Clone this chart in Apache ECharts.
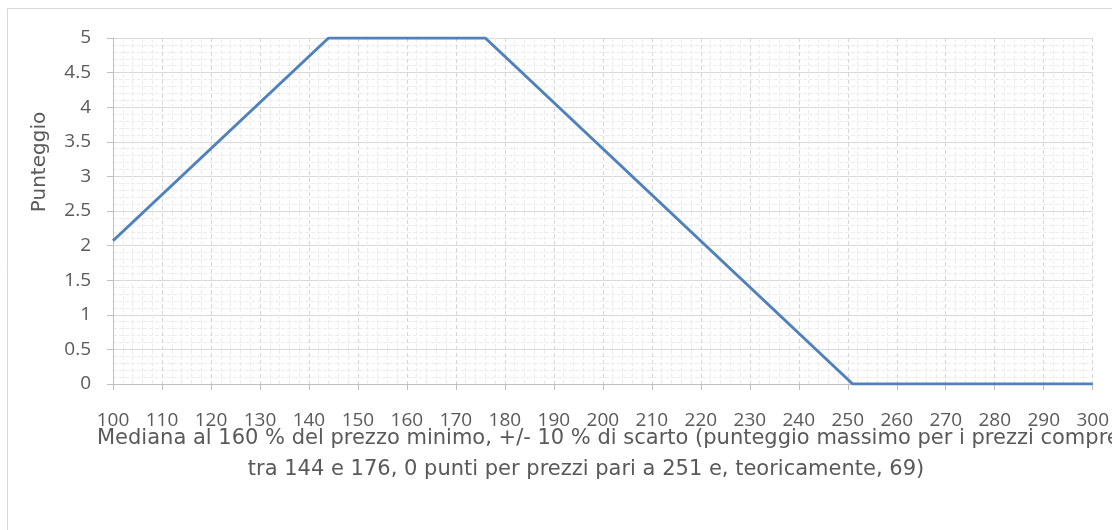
<!DOCTYPE html>
<html>
<head>
<meta charset="utf-8">
<script src="https://cdn.jsdelivr.net/npm/echarts@6/dist/echarts.min.js"></script>
<style>
  html, body { margin: 0; padding: 0; background: #fff; }
  #chart { width: 1112px; height: 530px; }
</style>
</head>
<body>
<div id="chart"></div>
<script>
// prezzo (x) e punteggio (y)
const prezzi = [100, 144, 176, 251, 300];
const punteggi = [2.07, 5, 5, 0, 0];

const xTitle1 = 'Mediana al 160 % del prezzo minimo, +/- 10 % di scarto (punteggio massimo per i prezzi compresi';
const xTitle2 = 'tra 144 e 176, 0 punti per prezzi pari a 251 e, teoricamente, 69)';
const yTitle = 'Punteggio';

const FONT = '"Open Sans", sans-serif';
const TITLE_FONT = '"DejaVu Sans", sans-serif';
const TEXT = '#595959';

const chart = echarts.init(document.getElementById('chart'));

const option = {
    animation: false,
    grid: { left: 113, right: 17, top: 38, bottom: 146 },
    xAxis: {
        type: 'value',
        min: 100,
        max: 300,
        interval: 10,
        axisLine: { lineStyle: { color: '#bfbfbf', width: 1 } },
        axisTick: { show: true, length: 6, lineStyle: { color: '#bfbfbf' } },
        axisLabel: { color: TEXT, fontFamily: FONT, fontSize: 19, margin: 27 },
        splitLine: { show: true, lineStyle: { color: '#d6d6d6', type: [4, 3], width: 1 } },
        minorTick: { show: false, splitNumber: 5 },
        minorSplitLine: { show: true, lineStyle: { color: '#ececec', type: [4, 2], width: 1 } }
    },
    yAxis: {
        type: 'value',
        min: 0,
        max: 5,
        interval: 0.5,
        axisLine: { show: true, lineStyle: { color: '#bfbfbf', width: 1 } },
        axisTick: { show: true, length: 6, lineStyle: { color: '#bfbfbf' } },
        axisLabel: {
            color: TEXT, fontFamily: FONT, fontSize: 19, margin: 22,
            formatter: v => String(v)
        },
        splitLine: { show: true, lineStyle: { color: '#d9d9d9', width: 1 } },
        minorTick: { show: false, splitNumber: 5 },
        minorSplitLine: { show: true, lineStyle: { color: '#ececec', type: [4, 2], width: 1 } }
    },
    graphic: [
        {
            type: 'rect',
            shape: { x: 7.5, y: 8.5, width: 1300, height: 700 },
            style: { fill: 'none', stroke: '#d9d9d9', lineWidth: 1 },
            silent: true
        },
        {
            type: 'text',
            x: 40, y: 162,
            rotation: Math.PI / 2,
            style: {
                text: yTitle, fill: TEXT, font: '20px ' + TITLE_FONT,
                align: 'center', verticalAlign: 'middle'
            }
        },
        {
            type: 'text',
            x: 97, y: 439,
            style: {
                text: xTitle1, fill: TEXT, font: '21px ' + TITLE_FONT,
                align: 'left', verticalAlign: 'middle'
            }
        },
        {
            type: 'text',
            x: 586, y: 470,
            style: {
                text: xTitle2, fill: TEXT, font: '21px ' + TITLE_FONT,
                align: 'center', verticalAlign: 'middle'
            }
        }
    ],
    series: [{
        type: 'line',
        data: prezzi.map((p, i) => [p, punteggi[i]]),
        showSymbol: false,
        symbol: 'none',
        lineStyle: { color: '#4f81bd', width: 3 },
        z: 5
    }]
};

chart.setOption(option);
</script>
</body>
</html>
